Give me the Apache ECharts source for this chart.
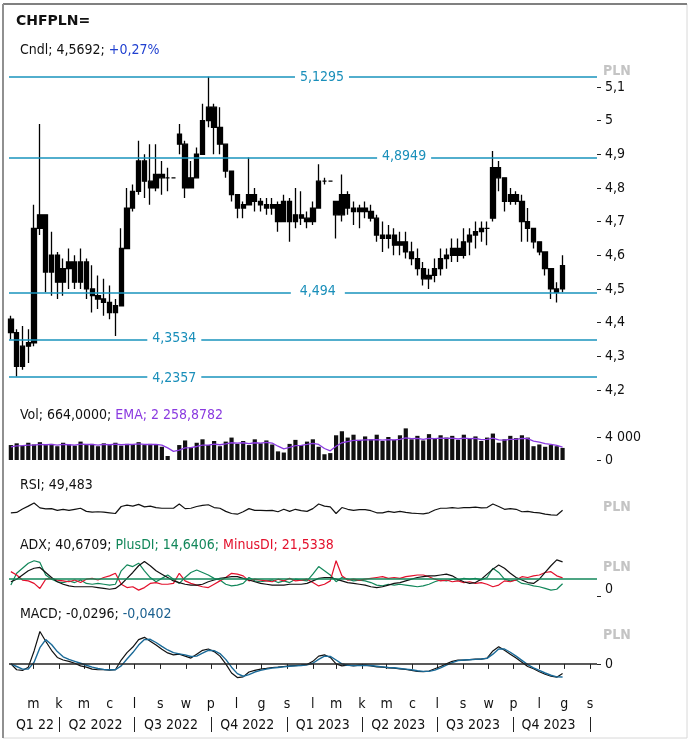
<!DOCTYPE html>
<html><head><meta charset="utf-8">
<script src="https://cdn.jsdelivr.net/npm/echarts@6/dist/echarts.min.js"></script>
<style>html,body{margin:0;padding:0;background:#fff}#c{width:692px;height:747px}</style>
</head><body><div id="c"></div>
<script>
// ---- DATA (weekly) ----
const dates = ['2022-02-02','2022-02-09','2022-02-16','2022-02-23','2022-03-02','2022-03-09','2022-03-16','2022-03-23','2022-03-30','2022-04-06','2022-04-13','2022-04-20','2022-04-27','2022-05-04','2022-05-11','2022-05-18','2022-05-25','2022-06-01','2022-06-08','2022-06-15','2022-06-22','2022-06-29','2022-07-06','2022-07-13','2022-07-20','2022-07-27','2022-08-03','2022-08-10','2022-08-17','2022-08-24','2022-08-31','2022-09-07','2022-09-14','2022-09-21','2022-09-28','2022-10-05','2022-10-12','2022-10-19','2022-10-26','2022-11-02','2022-11-09','2022-11-16','2022-11-23','2022-11-30','2022-12-07','2022-12-14','2022-12-21','2022-12-28','2023-01-04','2023-01-11','2023-01-18','2023-01-25','2023-02-01','2023-02-08','2023-02-15','2023-02-22','2023-03-01','2023-03-08','2023-03-15','2023-03-22','2023-03-29','2023-04-05','2023-04-12','2023-04-19','2023-04-26','2023-05-03','2023-05-10','2023-05-17','2023-05-24','2023-05-31','2023-06-07','2023-06-14','2023-06-21','2023-06-28','2023-07-05','2023-07-12','2023-07-19','2023-07-26','2023-08-02','2023-08-09','2023-08-16','2023-08-23','2023-08-30','2023-09-06','2023-09-13','2023-09-20','2023-09-27','2023-10-04','2023-10-11','2023-10-18','2023-10-25','2023-11-01','2023-11-08','2023-11-15','2023-11-22','2023-11-29'];
const open  = [4.41,4.37,4.27,4.33,4.34,4.68,4.72,4.55,4.60,4.52,4.56,4.58,4.52,4.58,4.50,4.48,4.47,4.46,4.43,4.45,4.62,4.74,4.79,4.88,4.82,4.80,4.84,4.83,4.83,4.96,4.93,4.80,4.83,4.90,5.00,5.04,4.98,4.93,4.85,4.78,4.74,4.75,4.78,4.76,4.75,4.74,4.75,4.70,4.76,4.70,4.72,4.71,4.70,4.74,4.82,4.82,4.76,4.72,4.78,4.74,4.73,4.74,4.73,4.71,4.66,4.65,4.66,4.63,4.64,4.61,4.59,4.56,4.53,4.54,4.56,4.59,4.60,4.62,4.60,4.64,4.66,4.67,4.68,4.71,4.86,4.83,4.76,4.78,4.76,4.70,4.68,4.64,4.61,4.56,4.50,4.50];
const close = [4.37,4.27,4.33,4.34,4.68,4.72,4.55,4.60,4.52,4.56,4.58,4.52,4.58,4.50,4.48,4.47,4.46,4.43,4.45,4.62,4.74,4.79,4.88,4.82,4.80,4.84,4.83,4.83,4.83,4.93,4.80,4.83,4.90,5.00,5.04,4.98,4.93,4.85,4.78,4.74,4.75,4.78,4.76,4.75,4.74,4.75,4.70,4.76,4.70,4.72,4.71,4.70,4.74,4.82,4.82,4.82,4.72,4.78,4.74,4.73,4.74,4.73,4.71,4.66,4.65,4.66,4.63,4.64,4.61,4.59,4.56,4.53,4.54,4.56,4.59,4.60,4.62,4.60,4.64,4.66,4.67,4.68,4.68,4.86,4.83,4.76,4.78,4.76,4.70,4.68,4.64,4.61,4.56,4.50,4.49,4.5692];
const low   = [4.35,4.24,4.26,4.28,4.33,4.66,4.49,4.48,4.47,4.48,4.50,4.50,4.50,4.47,4.43,4.44,4.42,4.41,4.36,4.45,4.62,4.73,4.78,4.77,4.75,4.79,4.78,4.79,4.83,4.90,4.77,4.80,4.83,4.90,4.98,4.90,4.90,4.83,4.76,4.71,4.71,4.75,4.73,4.73,4.72,4.72,4.67,4.70,4.64,4.68,4.69,4.68,4.69,4.74,4.81,4.82,4.65,4.70,4.72,4.69,4.68,4.71,4.70,4.64,4.61,4.62,4.60,4.60,4.59,4.57,4.54,4.51,4.50,4.52,4.54,4.56,4.58,4.58,4.59,4.60,4.62,4.64,4.63,4.70,4.79,4.73,4.75,4.75,4.64,4.64,4.62,4.60,4.54,4.47,4.46,4.49];
const high  = [4.42,4.38,4.39,4.38,4.75,4.99,4.66,4.67,4.61,4.59,4.62,4.60,4.62,4.59,4.57,4.54,4.53,4.51,4.47,4.68,4.80,4.81,4.94,4.90,4.93,4.93,4.88,4.86,4.83,4.99,4.94,4.88,4.92,5.05,5.13,5.05,5.04,4.93,4.85,4.78,4.76,4.89,4.80,4.77,4.77,4.77,4.76,4.78,4.77,4.80,4.79,4.73,4.76,4.87,4.83,4.82,4.76,4.84,4.79,4.76,4.75,4.76,4.75,4.72,4.70,4.69,4.68,4.67,4.67,4.64,4.62,4.58,4.56,4.59,4.62,4.62,4.65,4.65,4.68,4.68,4.70,4.70,4.70,4.91,4.88,4.83,4.80,4.79,4.78,4.74,4.68,4.64,4.61,4.56,4.52,4.60];
const volume = [2600,2900,2500,3000,2700,3100,2600,2800,2400,3000,2700,2500,3200,2600,2800,2400,2900,2600,3000,2500,2800,2700,3100,2600,2800,2700,2300,700,0,2600,3400,2200,3000,3600,2600,3300,2400,3200,3900,2800,3300,2600,3600,2900,3400,2700,1500,1300,2800,3500,2600,3200,3600,2300,1000,1200,4300,5000,3900,4400,3500,4100,3600,4400,3300,4000,3500,4300,5500,3600,4200,3400,4500,3800,4300,3900,4200,3500,4400,3700,4100,3300,3900,4600,3000,3600,4200,3800,4300,3900,2400,2700,2300,2600,2400,2100];
const volEma = [2300,2450,2500,2600,2600,2700,2650,2700,2600,2700,2650,2600,2750,2700,2700,2600,2700,2650,2750,2650,2700,2700,2800,2700,2700,2700,2600,2100,1500,1700,2100,2150,2350,2600,2600,2750,2650,2800,3000,2950,3000,2850,3000,2950,3050,2950,2400,1950,2200,2500,2550,2700,2900,2700,2000,1600,2400,3000,3200,3400,3400,3500,3500,3550,3450,3550,3500,3600,3850,3700,3750,3600,3750,3700,3800,3750,3800,3650,3800,3700,3750,3550,3600,3800,3500,3450,3600,3600,3750,3700,3300,3100,2850,2700,2550,2259];
const rsi = [42,43,53,61,70,56,53,54,49,52,49,52,55,46,44,45,44,42,40,60,64,61,66,59,61,57,55,55,55,67,54,55,60,63,65,57,55,46,40,38,45,54,49,49,48,49,45,52,46,52,48,46,54,67,61,59,40,57,52,49,51,51,48,42,42,46,43,46,43,41,40,39,42,50,55,55,57,55,57,57,58,56,57,67,60,52,54,52,45,46,43,42,38,36,35,49.483];
const adx = [17,20,25,30,33,34,28,22,17,14,12,11,11,11,11,10,9,8,9,14,21,28,36,41,36,30,26,22,18,16,14,13,13,14,17,19,21,22,23,23,21,19,17,15,14,13,13,13,14,14,14,15,18,21,22,22,20,18,16,15,14,13,11,10,11,13,15,16,18,20,22,23,24,24,25,26,24,20,17,15,16,20,26,32,37,33,27,22,19,16,15,20,28,36,43,40.6709];
const plusDI = [13,27,33,39,42,40,25,20,17,16,18,16,19,15,14,15,14,13,14,30,37,35,39,30,22,17,21,25,20,15,22,28,31,28,25,21,19,14,12,13,15,22,18,17,18,19,16,18,16,20,19,18,26,35,30,25,17,22,20,18,19,18,16,13,12,14,13,14,13,12,11,12,14,17,19,18,20,19,21,20,21,19,22,33,28,20,18,19,15,14,12,11,9,7,8,14.6406];
const minusDI = [29,25,19,18,15,9,20,21,19,18,17,19,16,20,21,19,22,24,27,14,10,11,7,10,15,16,14,14,15,27,18,15,13,11,10,14,18,22,27,26,24,18,20,19,18,17,20,18,21,18,19,20,16,12,14,18,42,24,19,20,19,20,21,22,23,21,22,21,23,24,25,25,23,20,18,19,17,18,16,17,15,16,14,11,13,18,17,19,23,22,24,25,28,29,24,21.5338];
const macd = [0.000,-0.018,-0.020,-0.010,0.040,0.100,0.070,0.042,0.020,0.012,0.008,0.002,-0.006,-0.010,-0.016,-0.018,-0.018,-0.019,-0.018,0.012,0.035,0.052,0.075,0.082,0.070,0.058,0.045,0.034,0.028,0.030,0.024,0.018,0.030,0.042,0.046,0.038,0.024,0.000,-0.028,-0.042,-0.040,-0.025,-0.020,-0.016,-0.014,-0.011,-0.010,-0.008,-0.006,-0.005,-0.004,-0.002,0.008,0.024,0.028,0.020,0.000,-0.006,-0.004,-0.006,-0.004,-0.004,-0.006,-0.009,-0.010,-0.012,-0.013,-0.015,-0.017,-0.020,-0.023,-0.024,-0.022,-0.015,-0.008,0.000,0.008,0.012,0.012,0.013,0.015,0.015,0.018,0.040,0.053,0.042,0.030,0.018,0.005,-0.008,-0.015,-0.024,-0.032,-0.038,-0.041,-0.0296];
const signal = [0.000,-0.008,-0.016,-0.016,0.005,0.050,0.075,0.060,0.038,0.022,0.014,0.008,0.002,-0.004,-0.010,-0.014,-0.017,-0.018,-0.018,-0.006,0.015,0.035,0.058,0.075,0.076,0.066,0.054,0.043,0.035,0.031,0.028,0.023,0.024,0.033,0.042,0.041,0.032,0.014,-0.010,-0.030,-0.038,-0.033,-0.025,-0.020,-0.016,-0.013,-0.011,-0.009,-0.007,-0.006,-0.005,-0.003,0.002,0.014,0.024,0.023,0.012,0.000,-0.004,-0.005,-0.005,-0.004,-0.005,-0.007,-0.009,-0.011,-0.012,-0.014,-0.016,-0.018,-0.021,-0.023,-0.023,-0.019,-0.012,-0.004,0.004,0.010,0.012,0.013,0.014,0.015,0.017,0.030,0.046,0.046,0.036,0.024,0.011,-0.002,-0.012,-0.020,-0.028,-0.035,-0.040,-0.0402];
const levels = [5.1295, 4.8949, 4.494, 4.3534, 4.2357];
const levelLabelDates = ['2023-02-12','2023-05-22','2023-02-07','2022-08-18','2022-08-18'];
const priceTicks = [4.2,4.3,4.4,4.5,4.6,4.7,4.8,4.9,5.0,5.1];
const volTicks = [0, 4000];
const adxThreshold = 20;
const monthTicks = ['2022-03-01','2022-04-01','2022-05-01','2022-06-01','2022-07-01','2022-08-01','2022-09-01','2022-10-01','2022-11-01','2022-12-01','2023-01-01','2023-02-01','2023-03-01','2023-04-01','2023-05-01','2023-06-01','2023-07-01','2023-08-01','2023-09-01','2023-10-01','2023-11-01','2023-12-01','2024-01-01'];
const monthLetters = ['s','l','m','k','m','c','l','s','w','p','l','g'];
const quarterTicks = ['2022-04-01','2022-07-01','2022-10-01','2023-01-01','2023-04-01','2023-07-01','2023-10-01','2024-01-01'];
const quarterLabelDates = ['2022-03-03','2022-05-15','2022-08-14','2022-11-14','2023-02-13','2023-05-15','2023-08-13','2023-11-12'];
const quarterNames = ['Q1 22','Q2 2022','Q3 2022','Q4 2022','Q1 2023','Q2 2023','Q3 2023','Q4 2023'];

// ---- helpers ----
const T = s => { const p = s.split('-').map(Number); return Date.UTC(p[0], p[1]-1, p[2]); };
const X = dates.map(T);
const comma = v => String(v).replace('.', ',');
const FONT = "'DejaVu Sans Condensed','DejaVu Sans',sans-serif";
const xMin = Date.UTC(2022,0,30,18), xMax = Date.UTC(2024,0,9,12);
const quarterLabelTs = quarterLabelDates.map(T);
const monthTs = monthTicks.map(T);
const pair = arr => X.map((x,i)=>[x, arr[i]]);

const grids = [
  {left:9, right:95, top:60, height:340},
  {left:9, right:95, top:425.5, height:34.5},
  {left:9, right:95, top:492.5, height:35},
  {left:9, right:95, top:554, height:42},
  {left:9, right:95, top:625, height:60}
];
const hiddenX = gi => ({type:'value', gridIndex:gi, min:xMin, max:xMax, show:false, splitLine:{show:false}});
const lblStyle = {color:'#111', fontSize:14, fontFamily:FONT};
const R = c => ({fontSize:14, color:c, fontFamily:FONT, fontWeight:'normal'});
const head = (top, text, rich) => ({left:20, top, padding:0, text, textStyle:{fontSize:14, fontWeight:'normal', color:'#111', fontFamily:FONT, rich}});
const pln = (top) => ({left:603, top, padding:0, text:'PLN', textStyle:{fontSize:14, fontWeight:'bold', color:'#c4c4c4', fontFamily:FONT}});

const option = {
  animation:false,
  backgroundColor:'#fff',
  textStyle:{fontFamily:FONT},
  grid: grids,
  title: [
    {left:16, top:14, padding:0, text:'CHFPLN=', textStyle:{fontSize:14, fontWeight:'bold', color:'#111', fontFamily:'DejaVu Sans'}},
    head(43, '{a|Cndl; 4,5692; }{b|+0,27%}', {a:R('#111'), b:R('#2040d0')}),
    head(408, '{a|Vol; 664,0000; }{b|EMA; 2 258,8782}', {a:R('#111'), b:R('#8a3ae0')}),
    head(478, '{a|RSI; 49,483}', {a:R('#111')}),
    head(538, '{a|ADX; 40,6709; }{g|PlusDI; 14,6406; }{r|MinusDI; 21,5338}', {a:R('#111'), g:R('#12875a'), r:R('#e3102c')}),
    head(607, '{a|MACD; -0,0296; }{b|-0,0402}', {a:R('#111'), b:R('#1a5f8e')}),
    pln(64), pln(500), pln(560), pln(628)
  ],
  xAxis: [
    hiddenX(0), hiddenX(1), hiddenX(2), hiddenX(3),
    {type:'value', gridIndex:4, min:xMin, max:xMax, position:'bottom', offset:4,
     axisLine:{show:false}, splitLine:{show:false},
     axisTick:{show:true, length:5, customValues:monthTs, lineStyle:{color:'#222'}},
     axisLabel:{customValues:monthTs, margin:8, hideOverlap:false, formatter:v=>monthLetters[new Date(v).getUTCMonth()], ...lblStyle}},
    {type:'value', gridIndex:4, min:xMin, max:xMax, position:'bottom', offset:32,
     axisLine:{show:false}, splitLine:{show:false},
     axisTick:{show:true, length:15, customValues:quarterTicks.map(T), lineStyle:{color:'#222', width:1}},
     axisLabel:{customValues:quarterLabelTs, margin:1, hideOverlap:false, formatter:v=>{const k=quarterLabelTs.indexOf(v); return k>=0?quarterNames[k]:'';}, ...lblStyle}}
  ],
  yAxis: [
    {type:'value', gridIndex:0, position:'right', min:4.17, max:5.18, splitLine:{show:false}, axisLine:{show:false},
     axisTick:{show:true, length:4, customValues:priceTicks, lineStyle:{color:'#222'}},
     axisLabel:{customValues:priceTicks, margin:8, formatter:v=>comma(+v.toFixed(1)), ...lblStyle}},
    {type:'value', gridIndex:1, position:'right', min:0, max:6000, splitLine:{show:false}, axisLine:{show:false},
     axisTick:{show:true, length:4, customValues:volTicks, lineStyle:{color:'#222'}},
     axisLabel:{customValues:volTicks, margin:8, formatter:v=>v===0?'0':String(v).replace(/\B(?=(\d{3})+$)/g,' '), ...lblStyle}},
    {type:'value', gridIndex:2, position:'right', min:0, max:100, show:false, splitLine:{show:false}},
    {type:'value', gridIndex:3, position:'right', min:0, max:50, splitLine:{show:false}, axisLine:{show:false},
     axisTick:{show:true, length:4, customValues:[0], lineStyle:{color:'#222'}},
     axisLabel:{customValues:[0], margin:8, verticalAlign:'bottom', ...lblStyle}},
    {type:'value', gridIndex:4, position:'right', min:-0.065, max:0.12, splitLine:{show:false}, axisLine:{show:false},
     axisTick:{show:true, length:4, customValues:[0], lineStyle:{color:'#222'}},
     axisLabel:{customValues:[0], margin:8, ...lblStyle}}
  ],
  series: [
    {type:'candlestick', name:'Cndl', xAxisIndex:0, yAxisIndex:0, barWidth:4.8,
     encode:{x:0, y:[1,2,3,4]},
     data: X.map((x,i)=>[x, open[i], close[i], low[i], high[i]]),
     itemStyle:{color:'#000', color0:'#000', borderColor:'#000', borderColor0:'#000', borderWidth:1.3},
     markLine:{silent:true, symbol:'none', animation:false, label:{show:false},
       lineStyle:{color:'#1993bd', width:1.5, type:'solid'},
       data: levels.map(v=>({yAxis:v}))},
     markPoint:{silent:true, animation:false, symbol:'rect', symbolSize:[54,16],
       itemStyle:{color:'#fff'},
       label:{show:true, position:'inside', color:'#1a8fba', fontSize:14, fontFamily:FONT, formatter:p=>comma(p.value)},
       data: levels.map((v,i)=>({coord:[T(levelLabelDates[i]), v], value:v}))}
    },
    {type:'bar', name:'Vol', xAxisIndex:1, yAxisIndex:1, barWidth:4.2, data:pair(volume), itemStyle:{color:'#111'}},
    {type:'line', name:'EMA', xAxisIndex:1, yAxisIndex:1, data:pair(volEma), symbol:'none', lineStyle:{color:'#8a3ae0', width:1.3}},
    {type:'line', name:'RSI', xAxisIndex:2, yAxisIndex:2, data:pair(rsi), symbol:'none', lineStyle:{color:'#111', width:1.2}},
    {type:'line', name:'PlusDI', xAxisIndex:3, yAxisIndex:3, data:pair(plusDI), symbol:'none', lineStyle:{color:'#12875a', width:1.2},
     markLine:{silent:true, symbol:'none', animation:false, label:{show:false}, lineStyle:{color:'#12875a', width:1.6, type:'solid'}, data:[{yAxis:adxThreshold}]}},
    {type:'line', name:'MinusDI', xAxisIndex:3, yAxisIndex:3, data:pair(minusDI), symbol:'none', lineStyle:{color:'#e3102c', width:1.2}},
    {type:'line', name:'ADX', xAxisIndex:3, yAxisIndex:3, data:pair(adx), symbol:'none', lineStyle:{color:'#111', width:1.2}},
    {type:'line', name:'MACD', xAxisIndex:4, yAxisIndex:4, data:pair(macd), symbol:'none', lineStyle:{color:'#111', width:1.2},
     markLine:{silent:true, symbol:'none', animation:false, label:{show:false}, lineStyle:{color:'#222', width:1.5, type:'solid'}, data:[{yAxis:0}]}},
    {type:'line', name:'Signal', xAxisIndex:4, yAxisIndex:4, data:pair(signal), symbol:'none', lineStyle:{color:'#1a6a98', width:1.4}}
  ],
  graphic: [
    {type:'rect', silent:true, shape:{x:3, y:4, width:684, height:734}, style:{fill:'none', stroke:'#d8d8d8', lineWidth:1}},
    {type:'line', silent:true, shape:{x1:3, y1:4, x2:687, y2:4}, style:{stroke:'#808080', lineWidth:2}},
    {type:'line', silent:true, shape:{x1:3, y1:4, x2:3, y2:738}, style:{stroke:'#909090', lineWidth:2}}
  ]
};
const chart = echarts.init(document.getElementById('c'), null, {renderer:'canvas'});
chart.setOption(option);
</script>
</body></html>
